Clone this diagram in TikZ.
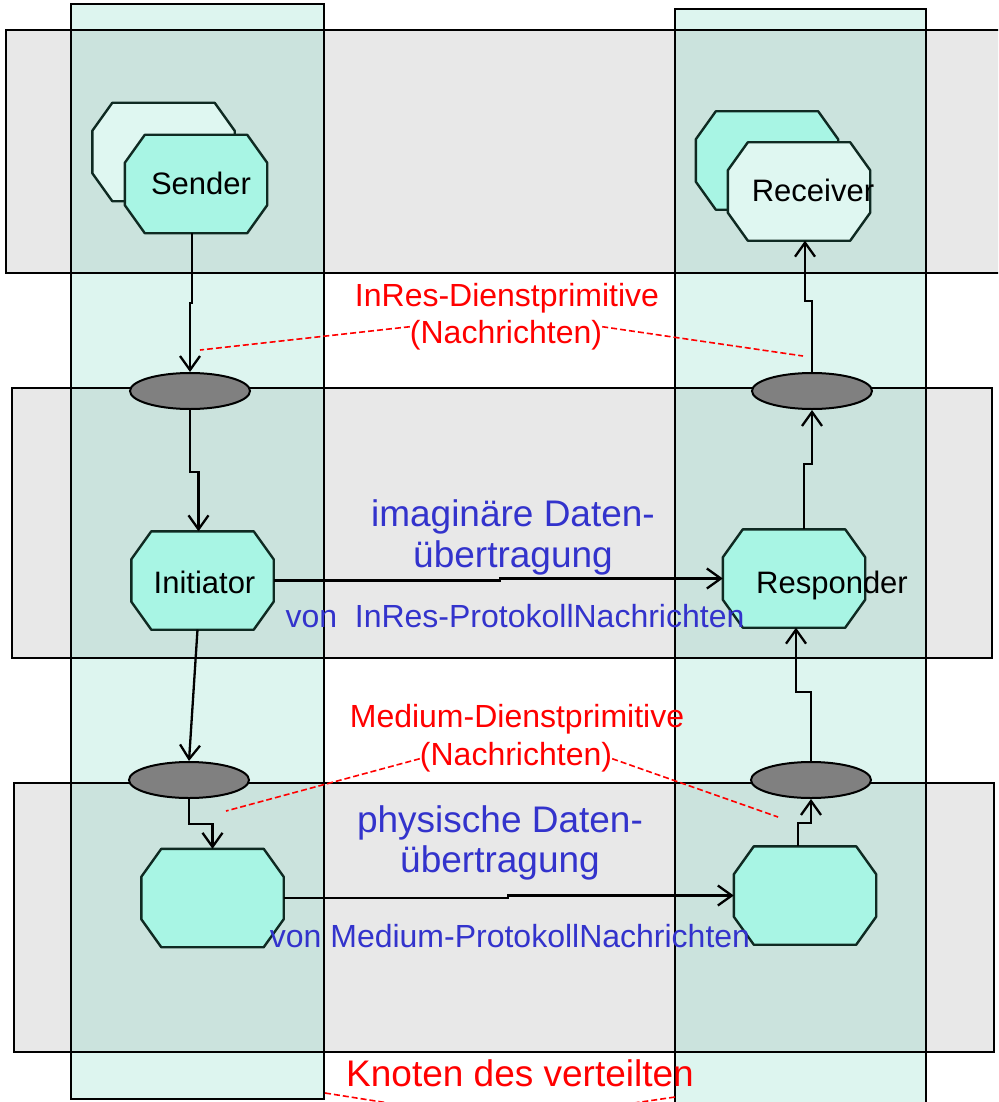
\documentclass[tikz,border=0pt]{standalone}
\usepackage{fontspec}
\setmainfont{Liberation Sans}
\usetikzlibrary{arrows.meta,shapes.geometric}
\definecolor{layergray}{HTML}{E8E8E8}
\definecolor{colmint}{RGB}{113,213,188}
\definecolor{octmint}{HTML}{A8F5E4}
\definecolor{octlight}{HTML}{DFF7F1}
\definecolor{ellgray}{HTML}{808080}
\definecolor{bluetxt}{HTML}{3333CC}
\definecolor{redtxt}{HTML}{FF0000}
\definecolor{octline}{HTML}{0F2A22}
\newcommand\octdraw[2]{%
  \filldraw[fill=#2,draw=octline,line width=2.4pt,line join=round]
    ([xshift=20pt]#1.north west) -- ([xshift=-20pt]#1.north east)
    -- ([yshift=-28pt]#1.north east) -- ([yshift=28pt]#1.south east)
    -- ([xshift=-20pt]#1.south east) -- ([xshift=20pt]#1.south west)
    -- ([yshift=28pt]#1.south west) -- ([yshift=-28pt]#1.north west) -- cycle;}
\begin{document}
\begin{tikzpicture}[x=1pt,y=-1pt,
  layerbox/.style={fill=layergray},
  colbox/.style={fill=colmint,fill opacity=0.24},
  frame/.style={draw=black,line width=1.8pt},
  oct/.style={rectangle,draw=none,minimum width=142pt,minimum height=98pt,inner sep=0pt},
  ell/.style={ellipse,draw=black,line width=2pt,fill=ellgray,minimum width=120pt,minimum height=36pt,inner sep=0pt},
  lbl/.style={anchor=base,inner sep=0pt,font=\fontsize{31}{36}\selectfont},
  redtext/.style={anchor=base,inner sep=0pt,text=redtxt,font=\fontsize{32}{38}\selectfont},
  bigblue/.style={anchor=base,inner sep=0pt,text=bluetxt,font=\fontsize{37}{44}\selectfont},
  smallblue/.style={anchor=base,inner sep=0pt,text=bluetxt,font=\fontsize{32}{38}\selectfont},
  bigred/.style={anchor=base,inner sep=0pt,text=redtxt,font=\fontsize{37}{44}\selectfont},
  arr/.style={draw=black,line width=2.3pt,-{Straight Barb[length=14pt,width=20pt,line width=2.3pt]}},
  dashline/.style={draw=redtxt,line width=1.6pt,dash pattern=on 6pt off 3pt}
]
\useasboundingbox (0,0) rectangle (998,1102);
\clip (0,0) rectangle (998,1102);
% layers and columns
\fill[layerbox] (6,30) rectangle (1010,273);
\fill[layerbox] (12,388) rectangle (992,658);
\fill[layerbox] (14,783) rectangle (994,1052);
\fill[colbox] (71,4) rectangle (324,1099);
\fill[colbox] (675,9) rectangle (926,1115);
\draw[frame] (6,30) rectangle (1010,273);
\draw[frame] (12,388) rectangle (992,658);
\draw[frame] (14,783) rectangle (994,1052);
\draw[frame] (71,4) rectangle (324,1099);
\draw[frame] (675,9) rectangle (926,1115);
% octagons
\node[oct] (senderback) at (163.5,152) {};
\octdraw{senderback}{octlight}
\node[oct] (sender) at (196,184) {};
\octdraw{sender}{octmint}
\node[lbl] (sendert) at (201,194) {Sender};
\node[oct] (recvback) at (767,160.5) {};
\octdraw{recvback}{octmint}
\node[oct] (recv) at (799,191.5) {};
\octdraw{recv}{octlight}
\node[lbl] (recvt) at (813,201) {Receiver};
\node[oct] (init) at (202.5,580.5) {};
\octdraw{init}{octmint}
\node[lbl] (initt) at (204.5,593) {Initiator};
\node[oct] (resp) at (794,578.5) {};
\octdraw{resp}{octmint}
\node[lbl] (respt) at (832,593) {Responder};
\node[oct] (bl) at (212.5,898) {};
\octdraw{bl}{octmint}
\node[oct] (br) at (805,895.5) {};
\octdraw{br}{octmint}
% ellipses
\node[ell] (e1) at (190,391) {};
\node[ell] (e2) at (812,391) {};
\node[ell] (e3) at (189,780) {};
\node[ell] (e4) at (811,780) {};
% texts
\node[redtext] (inresd) at (507,306) {InRes-Dienstprimitive};
\node[redtext] (inresn) at (506,343) {(Nachrichten)};
\node[bigblue] (imag) at (513,526) {imaginäre Daten-};
\node[bigblue] (imag2) at (513,567) {übertragung};
\node[smallblue] (voninres) at (515,627) {von\ \ InRes-ProtokollNachrichten};
\node[redtext] (medd) at (517,727) {Medium-Dienstprimitive};
\node[redtext] (medn) at (516,765) {(Nachrichten)};
\node[bigblue] (phys) at (500,832) {physische Daten-};
\node[bigblue] (phys2) at (500,872) {übertragung};
\node[smallblue] (vonmed) at (510,947) {von Medium-ProtokollNachrichten};
\node[bigred] (knoten) at (520,1086) {Knoten des verteilten};
% connectors
\draw[arr] ([xshift=-4pt]sender.south) -- ++(0,70) -| (e1.north);
\draw[arr] (e1.south) -- ++(0,62) -| ([xshift=-4pt]init.north);
\draw[arr] ([xshift=-5pt]init.south) -- (e3.north);
\draw[arr] (e3.south) -- ++(0,25) -| (bl.north);
\draw[arr] (init.east) -- ++(226,0) |- (resp.west);
\draw[arr] (bl.east) -- ++(224,0) |- (br.west);
\draw[arr] ([xshift=-7pt]br.north) -- ++(0,-23) -| (e4.south);
\draw[arr] (e4.north) -- ++(0,-69) -| ([xshift=2pt]resp.south);
\draw[arr] ([xshift=10pt]resp.north) -- ++(0,-65) -| (e2.south);
\draw[arr] (e2.north) -- ++(0,-71) -| ([xshift=6pt]recv.south);
% dashed pointers
\coordinate (p1) at (200,350);
\coordinate (p2) at (803,356);
\coordinate (p3) at (226,811);
\coordinate (p4) at (778,817);
\coordinate (k1) at (325,1093);
\coordinate (k2) at (420,1108);
\coordinate (k3) at (675,1097);
\coordinate (k4) at (600,1108);
\draw[dashline] ([yshift=8pt]inresn.west) -- (p1);
\draw[dashline] ([yshift=8pt]inresn.east) -- (p2);
\draw[dashline] ([yshift=-2pt]medn.west) -- (p3);
\draw[dashline] ([yshift=-2pt]medn.east) -- (p4);
\draw[dashline] (k1) -- (k2);
\draw[dashline] (k3) -- (k4);
\end{tikzpicture}
\end{document}
